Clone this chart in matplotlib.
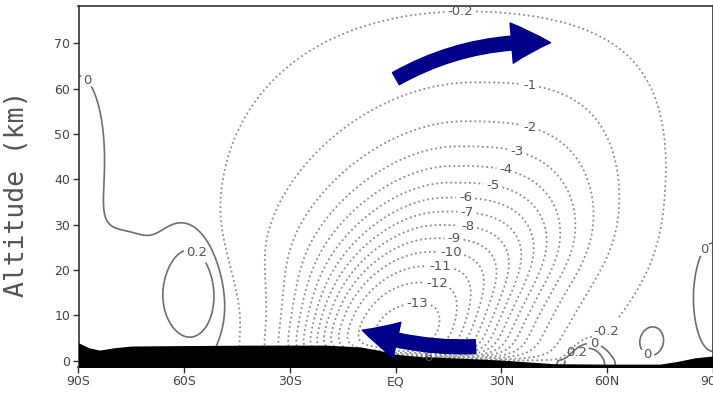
import numpy as np
import matplotlib
matplotlib.use("Agg")
import matplotlib.pyplot as plt
from matplotlib.patches import FancyArrowPatch

# ---------------- data ----------------
lat_ticks = [-90, -60, -30, 0, 30, 60, 90]
lat_ticklabels = ["90S", "60S", "30S", "EQ", "30N", "60N", "90N"]
alt_ticks = [0, 10, 20, 30, 40, 50, 60, 70]

neg_levels = [-13, -12, -11, -10, -9, -8, -7, -6, -5, -4, -3, -2, -1, -0.2]
pos_levels = [0, 0.2]

# main (negative) overturning cell
cell_amp = -13.35
cell_lat = 5.0          # core latitude
cell_alt = 5.0          # core altitude (km)
cell_tilt = 0.3         # deg latitude per km
cell_wlat_south = (31.0, 33.0)   # low / high level width
cell_p_south = (3.3, 1.95)
cell_wlat_north = (25.0, 40.0)
cell_p_north = (2.1, 2.95)
cell_walt_up = 33.5
cell_walt_down = 20.0
cell_edge = (62.0, 62.0, 72.0)   # south, north, top cut-off distances
surface_layer = 1.2
background = -0.04

# weak outer envelope of the cell
halo_amp = -0.28
halo_lat = 14.0
halo_alt = 38.0
halo_wlat_south = 65.6
halo_wlat_north = 63.0
halo_walt = 39.5

# weak positive cells
bump_lat = [-58.0, -78.0, -90.0, 90.0, 72.5, 53.5]
bump_alt = [15.0, 12.0, 45.0, 14.0, 4.5, -1.5]
bump_amp = [0.60, 0.16, 0.12, 0.12, 0.10, 1.00]
bump_wlat = [7.1, 14.0, 7.0, 5.2, 3.75, 5.0]
bump_walt = [9.9, 14.0, 17.0, 11.4, 3.5, 5.0]

# topography (black mask)
topo_lat = [-90, -87, -84, -80, -75, -60, -40, -20, -10, -5, 0, 5, 10, 20, 30, 45, 60, 75, 80, 85, 90]
topo_alt = [3.9, 2.8, 2.3, 2.8, 3.2, 3.3, 3.4, 3.4, 3.0, 2.3, 1.4, 1.0, 0.8, 0.45, 0.1, -0.7, -0.8, -0.8, -0.2, 0.6, 1.0]

# contour label spots (level, lat, alt)
label_spots = [(-0.2, 18.4, 76.7), (-1, 38.3, 61.9), (-2, 38.9, 53.8), (-3, 35.2, 48.0),
               (-4, 31.5, 42.7), (-5, 27.5, 38.0), (-6, 19.8, 34.3), (-7, 20.1, 30.8),
               (-8, 20.1, 27.7), (-9, 16.4, 24.6), (-10, 15.5, 22.6), (-11, 12.7, 20.0),
               (-12, 11.9, 17.8), (-13, 6.2, 8.9), (-0.2, 61.3, 5.0), (-6, 9.0, 1.2),
               (0, -86.7, 62.4), (0.2, -56.3, 24.0), (0, 86.6, 25.0), (0, 71.5, 1.5), (0, 56.2, 3.0),
               (0.2, 52.5, 0.5)]

# ---------------- field ----------------
lat = np.linspace(-90, 90, 721)
alt = np.linspace(-1.5, 78.5, 321)
LAT, Z = np.meshgrid(lat, alt)
S = 0.5 * (1 + np.tanh((Z - 18.0) / 12.0))
wxs = cell_wlat_south[0] + (cell_wlat_south[1] - cell_wlat_south[0]) * S
ps = cell_p_south[0] + (cell_p_south[1] - cell_p_south[0]) * S
wxn = cell_wlat_north[0] + (cell_wlat_north[1] - cell_wlat_north[0]) * S
pn = cell_p_north[0] + (cell_p_north[1] - cell_p_north[0]) * S
dx = LAT - (cell_lat + cell_tilt * (Z - cell_alt))
dz = Z - cell_alt
ax_ = np.abs(dx)
gx = np.where(dx < 0,
              np.exp(-(ax_ / wxs) ** ps - (ax_ / cell_edge[0]) ** 8),
              np.exp(-(ax_ / wxn) ** pn - (ax_ / cell_edge[1]) ** 8))
gz = np.where(dz > 0,
              np.exp(-(dz / cell_walt_up) ** 2 - (np.abs(dz) / cell_edge[2]) ** 8),
              np.exp(-(dz / cell_walt_down) ** 2))
bl = 1 - np.exp(-np.clip(Z, 0, None) / surface_layer)
psi = cell_amp * gx * gz * bl + background

hx = LAT - halo_lat
hz = Z - halo_alt
r_s = (hx / halo_wlat_south) ** 2 + (hz / halo_walt) ** 2
r_n = np.abs(hx / halo_wlat_north) ** 2.5 + np.abs(hz / halo_walt) ** 2.5
wgt = 0.5 * (1 - np.tanh(hx / 6.0))
R = wgt * r_s + (1 - wgt) * r_n
psi = psi + halo_amp * np.exp(-R ** 4)

for la, al, am, wl, wa in zip(bump_lat, bump_alt, bump_amp, bump_wlat, bump_walt):
    psi = psi + am * np.exp(-((LAT - la) / wl) ** 2 - ((Z - al) / wa) ** 2)

# ---------------- figure ----------------
fig = plt.figure(figsize=(7.13, 3.94), dpi=100)
ax = fig.add_axes([78.5 / 713, 1 - 367 / 394, (712.6 - 78.5) / 713, (367 - 5.7) / 394])
ax.set_xlim(-90, 90)
ax.set_ylim(-1.43, 78.3)

fmt = lambda v: f"{v:g}"
for lev in neg_levels + pos_levels:
    if lev < 0:
        cs = ax.contour(LAT, Z, psi, levels=[lev], colors='#8c8c8c', linewidths=1.3,
                        linestyles=[(0, (1, 1.6))])
    else:
        cs = ax.contour(LAT, Z, psi, levels=[lev], colors='#6e6e6e', linewidths=1.2,
                        linestyles='solid')
    spots = [(x, y) for (l, x, y) in label_spots if l == lev]
    if spots and len(cs.allsegs[0]) > 0:
        texts = ax.clabel(cs, manual=spots, inline=True, fmt=fmt, fontsize=9.5,
                          colors='#555555', inline_spacing=3)
        for t in texts:
            t.set_rotation(0)
            t.set_zorder(4)

ax.fill_between(topo_lat, -3, topo_alt, color='black', zorder=3, lw=0)

navy = '#00008b'
a1 = FancyArrowPatch((-0.6, 61.9), (44.8, 70.1), connectionstyle="arc3,rad=-0.15",
                     arrowstyle="simple,head_width=29,head_length=28,tail_width=10",
                     color=navy, zorder=5, mutation_scale=1)
a2 = FancyArrowPatch((23.5, 3.1), (-10.2, 6.9), connectionstyle="arc3,rad=-0.1",
                     arrowstyle="simple,head_width=26,head_length=26,tail_width=10",
                     color=navy, zorder=5, mutation_scale=1)
ax.add_patch(a1)
ax.add_patch(a2)

ax.set_xticks(lat_ticks)
ax.set_xticklabels(lat_ticklabels)
ax.set_yticks(alt_ticks)
ax.tick_params(direction='out', length=4, width=1, colors='#333333', labelsize=9,
               labelcolor='#444444', pad=2)
for s in ax.spines.values():
    s.set_color('#333333')
    s.set_linewidth(1.2)
ax.set_ylabel("Altitude (km)", fontsize=19, family='DejaVu Sans Mono', color='#555555', labelpad=6)
ax.yaxis.set_label_coords(-0.076, 0.48)

fig.savefig("out.png", dpi=100)
